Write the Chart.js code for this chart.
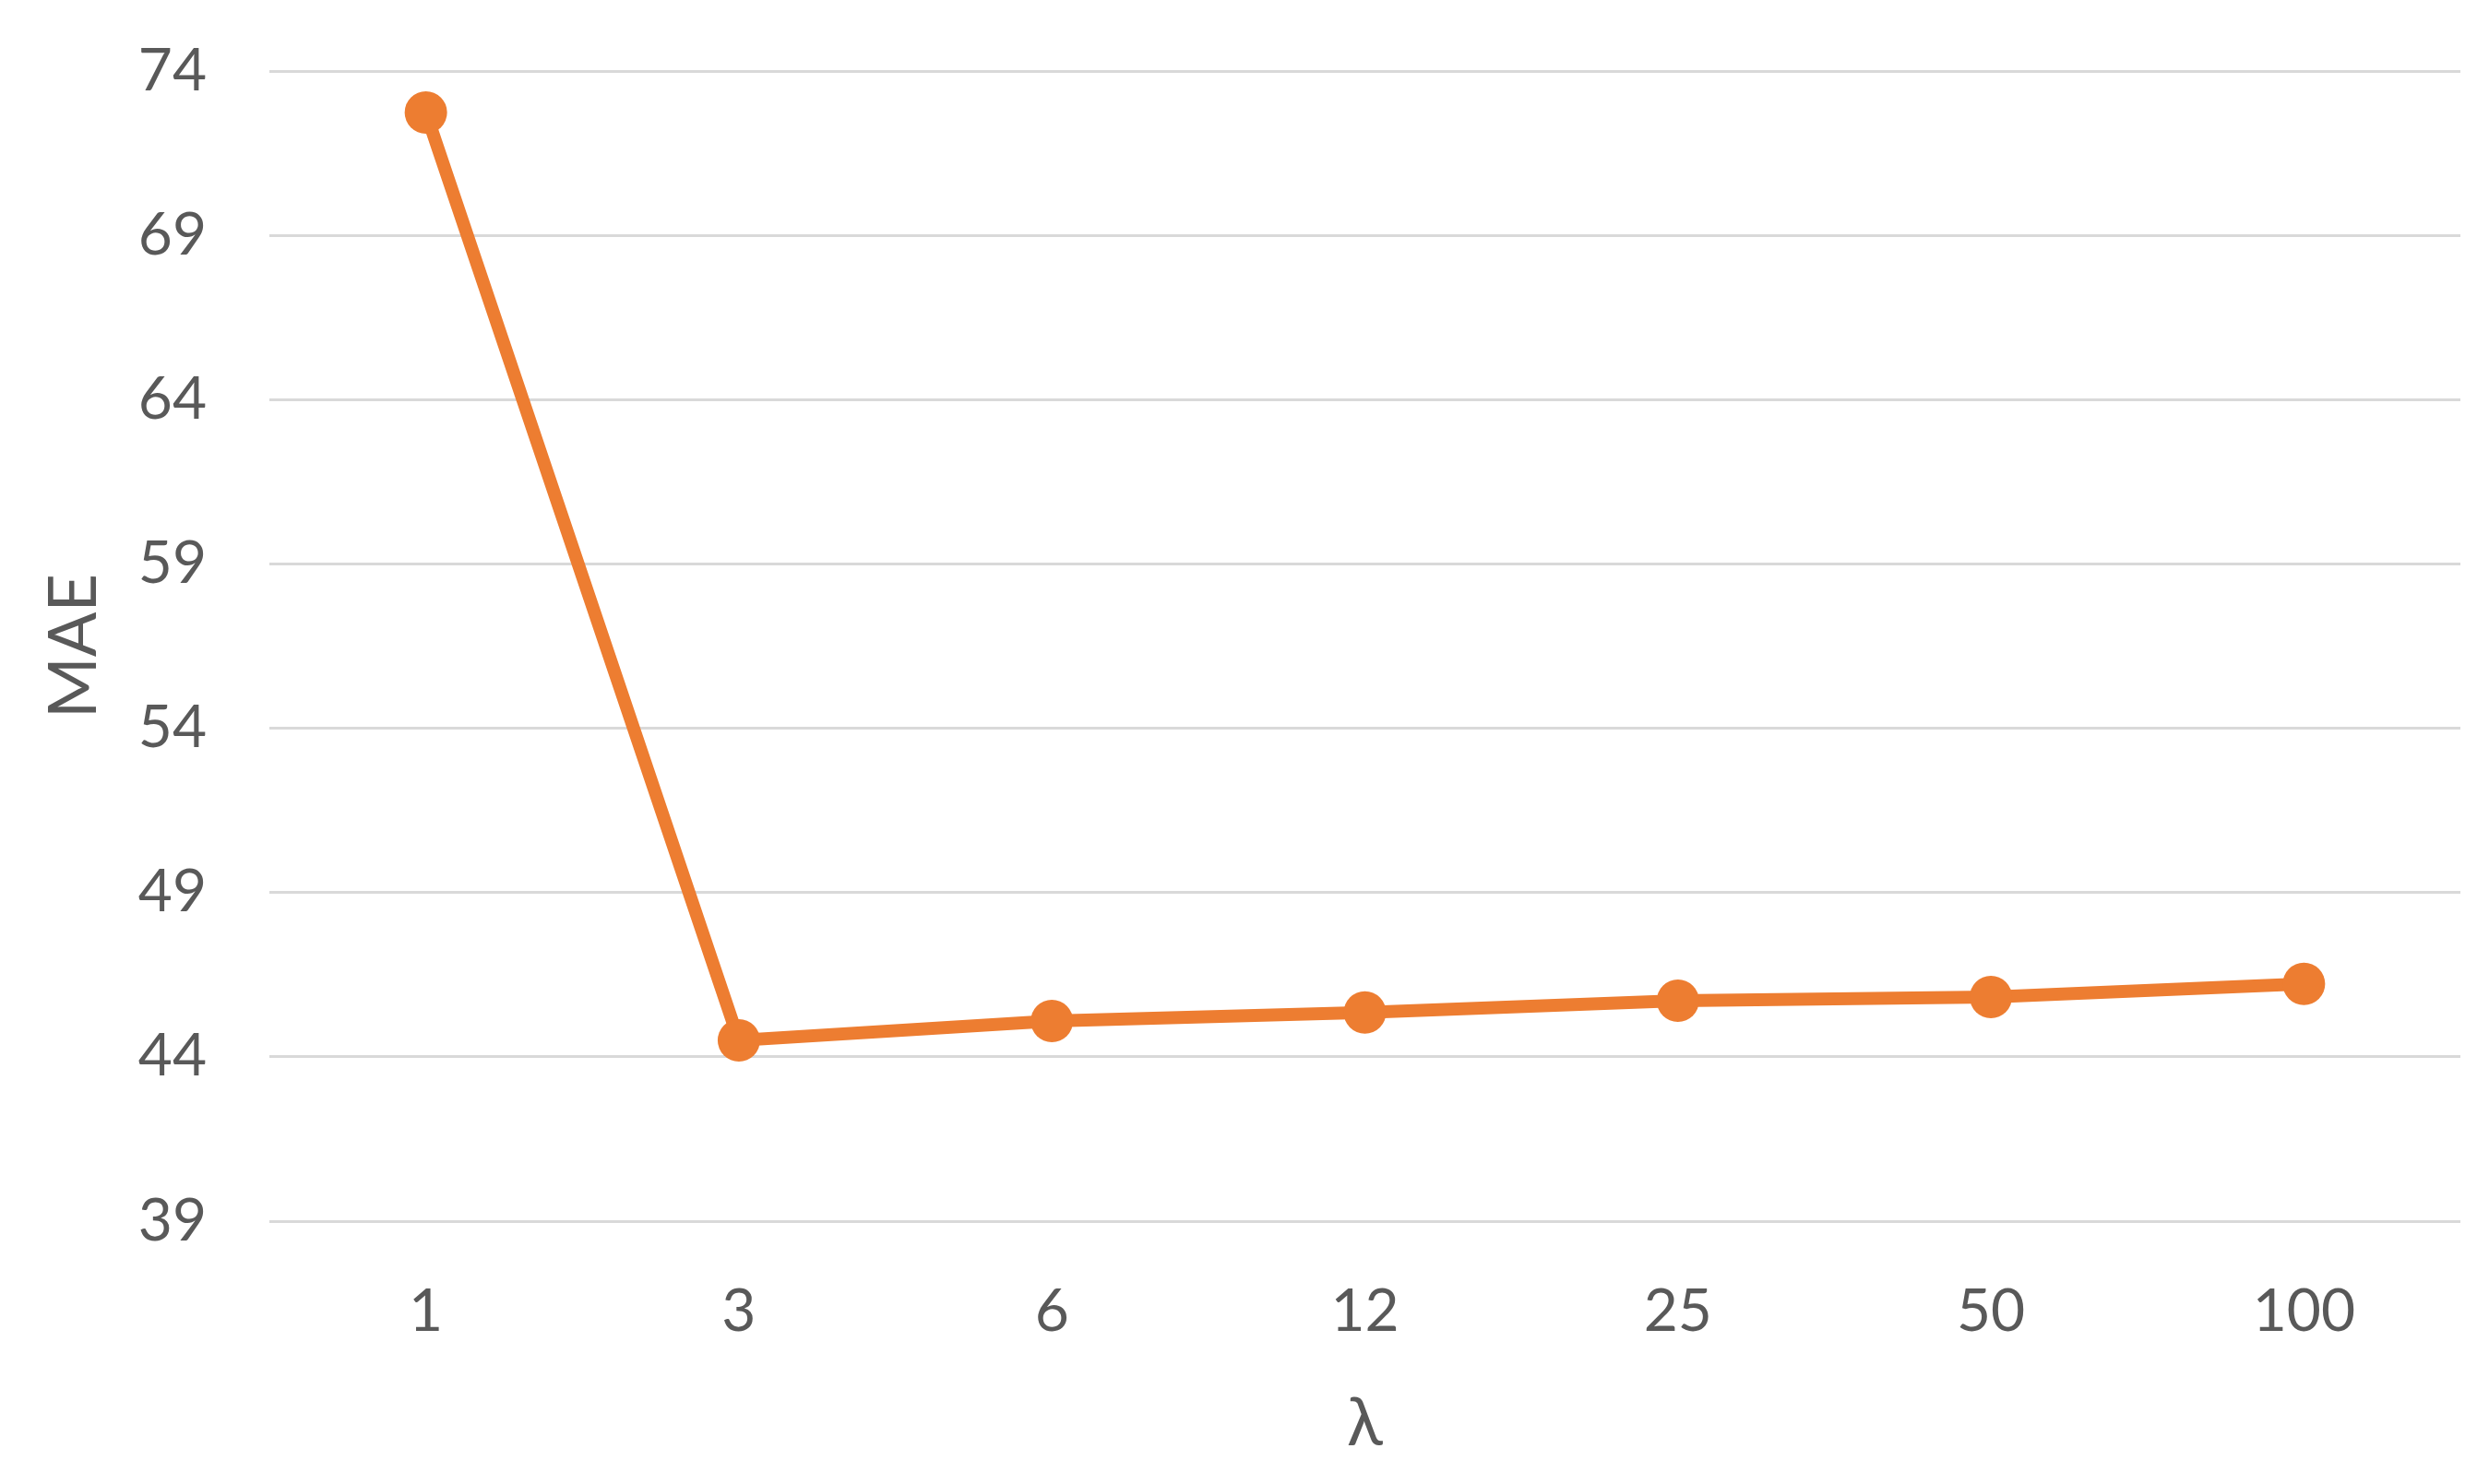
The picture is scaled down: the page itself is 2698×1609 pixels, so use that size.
<!DOCTYPE html>
<html>
<head>
<meta charset="utf-8">
<title>MAE vs lambda</title>
<script src="https://cdn.jsdelivr.net/npm/chart.js@4.4.1/dist/chart.umd.min.js"></script>
<style>
    html, body { margin: 0; padding: 0; background: #ffffff; }
    #wrap { width: 2698px; height: 1609px; }
</style>
</head>
<body>
<div id="wrap"><canvas id="maeChart" width="2698" height="1609"></canvas></div>
<script>
// values
const lambdas = ['1', '3', '6', '12', '25', '50', '100'];
const maeValues = [72.74, 44.5, 45.09, 45.35, 45.71, 45.82, 46.22];
const yTicks = [39, 44, 49, 54, 59, 64, 69, 74];

const ORANGE = '#ED7D31';
const TEXT = '#595959';
const FONT = 'Lato, "Open Sans", sans-serif';

function initMaeChart() {
    const ctx = document.getElementById('maeChart');
    if (!ctx) return;

    new Chart(ctx, {
        type: 'line',
        data: {
            labels: lambdas,
            datasets: [
                {
                    label: 'MAE',
                    data: maeValues,
                    borderColor: ORANGE,
                    backgroundColor: ORANGE,
                    borderWidth: 14,
                    pointRadius: 23,
                    pointHoverRadius: 23,
                    pointBackgroundColor: ORANGE,
                    pointBorderWidth: 0,
                    tension: 0,
                },
            ],
        },
        options: {
            responsive: false,
            animation: false,
            layout: {
                padding: { top: 77, right: 31, bottom: 0, left: 2 },
            },
            plugins: {
                legend: { display: false },
                tooltip: { enabled: false },
            },
            scales: {
                x: {
                    offset: true,
                    grid: { display: false },
                    border: { display: false },
                    ticks: {
                        padding: 52,
                        color: TEXT,
                        font: { family: FONT, size: 64 },
                    },
                    title: {
                        display: true,
                        text: 'λ',
                        color: TEXT,
                        font: { family: FONT, size: 72 },
                        padding: { top: 0, bottom: 22 },
                    },
                    afterFit: function (scale) {
                        scale.height = 285;
                    },
                },
                y: {
                    min: 39,
                    max: 74,
                    afterBuildTicks: function (scale) {
                        scale.ticks = yTicks.map(v => ({ value: v }));
                    },
                    grid: {
                        color: '#d9d9d9',
                        lineWidth: 3,
                        drawTicks: false,
                    },
                    border: { display: false },
                    ticks: {
                        padding: 68,
                        color: TEXT,
                        font: { family: FONT, size: 64 },
                    },
                    title: {
                        display: true,
                        text: 'MAE',
                        color: TEXT,
                        font: { family: FONT, size: 72 },
                        padding: { top: 36, bottom: 0 },
                    },
                    afterFit: function (scale) {
                        scale.width = 290;
                        scale.paddingTop = 0;
                        scale.paddingBottom = 0;
                    },
                },
            },
        },
    });
}

document.addEventListener('DOMContentLoaded', function () {
    initMaeChart();
});
</script>
</body>
</html>
